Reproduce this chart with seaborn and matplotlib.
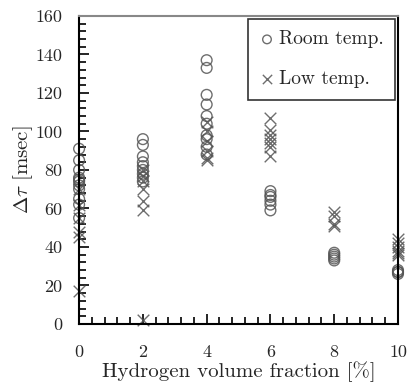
import matplotlib
matplotlib.use("Agg")
import matplotlib.pyplot as plt
from matplotlib.ticker import MultipleLocator
import seaborn as sns
import pandas as pd

# hydrogen fraction [%] and delay [msec]
room_x = [0] * 11 + [2] * 9 + [4] * 10 + [6] * 6 + [8] * 5 + [10] * 4
room_y = [91, 85, 80, 76, 75, 74, 72, 70, 65, 62, 55,
          96, 93, 87, 84, 82, 80, 78, 76, 74,
          137, 133, 119, 114, 108, 104, 98, 96, 92, 88,
          69, 67, 66, 64, 62, 59,
          37, 36, 35, 34, 33,
          28, 27, 27, 26]
low_x = [0] * 6 + [2] * 7 + [4] * 6 + [6] * 7 + [8] * 4 + [10] * 6
low_y = [70, 62, 55, 48, 45, 17,
         80, 77, 74, 70, 64, 59, 2,
         105, 100, 95, 90, 86, 85,
         107, 101, 98, 96, 94, 92, 87,
         58, 56, 52, 51,
         44, 42, 40, 38, 37, 36]

room = pd.DataFrame({"h2": room_x, "dt": room_y})
low = pd.DataFrame({"h2": low_x, "dt": low_y})

sns.set_style("white")
plt.rcParams["font.family"] = ["cmr10", "DejaVu Serif"]
plt.rcParams["mathtext.fontset"] = "cm"
plt.rcParams["axes.unicode_minus"] = False

fig = plt.figure(figsize=(4.12, 3.88), dpi=100)
ax = fig.add_axes([0.192, 0.165, 0.774, 0.794])

sns.scatterplot(data=room, x="h2", y="dt", marker="o", s=60, facecolors="none",
                edgecolor="#555555", linewidth=1.0, alpha=0.85, clip_on=False,
                label="Room temp.", ax=ax)
sns.scatterplot(data=low, x="h2", y="dt", marker="x", s=70, color="#555555",
                linewidth=1.0, alpha=0.85, clip_on=False,
                label="Low temp.", ax=ax)

ax.set_xlim(0, 10)
ax.set_ylim(0, 160)
ax.xaxis.set_major_locator(MultipleLocator(2))
ax.xaxis.set_minor_locator(MultipleLocator(0.4))
ax.yaxis.set_major_locator(MultipleLocator(20))
ax.yaxis.set_minor_locator(MultipleLocator(4))
ax.tick_params(which="both", direction="in", bottom=True, left=True,
               top=False, right=False, labelsize=13, width=1.2, color="black")
ax.tick_params(axis="x", pad=15)
ax.tick_params(axis="y", pad=12)
ax.tick_params(which="major", length=7)
ax.tick_params(which="minor", length=5)

for side in ["left", "bottom", "right"]:
    ax.spines[side].set_color("black")
    ax.spines[side].set_linewidth(1.5)
ax.spines["top"].set_color("#888888")
ax.spines["top"].set_linewidth(1.5)

ax.set_xlabel("Hydrogen volume fraction [%]", fontsize=15, labelpad=1)
ax.set_ylabel(r"$\Delta\tau$ [msec]", fontsize=15, labelpad=0)

leg = ax.legend(loc="upper right", fontsize=14, frameon=True, fancybox=False,
                edgecolor="black", handletextpad=0.2, handlelength=0.8,
                borderpad=0.6, labelspacing=1.1, borderaxespad=0.15,
                markerscale=0.8)
leg.get_frame().set_linewidth(1.2)

fig.savefig("out.png", dpi=100)
